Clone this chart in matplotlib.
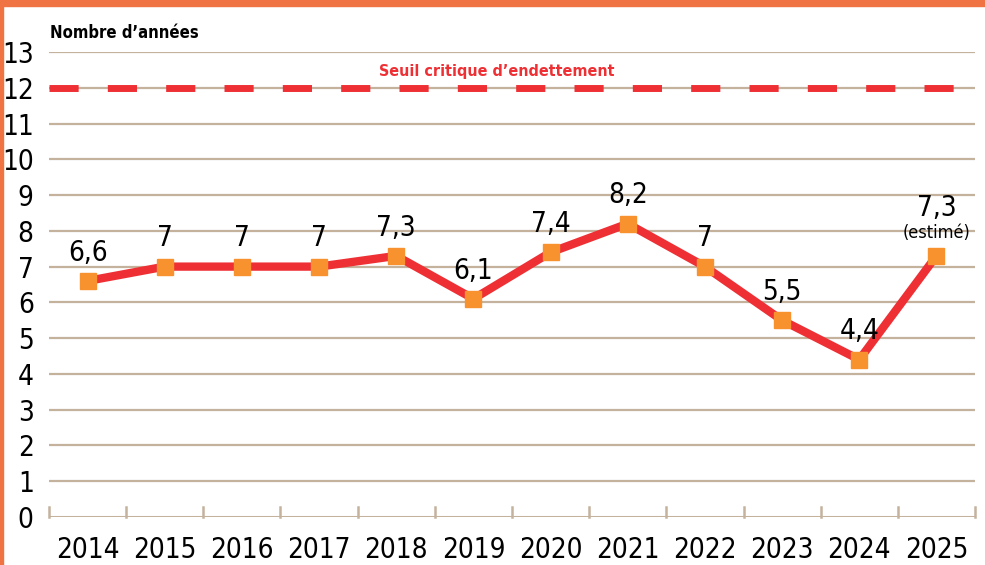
import matplotlib
matplotlib.use("Agg")
import matplotlib.pyplot as plt
from matplotlib.patches import Rectangle

years = ["2014", "2015", "2016", "2017", "2018", "2019", "2020", "2021", "2022", "2023", "2024", "2025"]
values = [6.6, 7, 7, 7, 7.3, 6.1, 7.4, 8.2, 7, 5.5, 4.4, 7.3]
labels = ["6,6", "7", "7", "7", "7,3", "6,1", "7,4", "8,2", "7", "5,5", "4,4", "7,3"]
seuil = 12
yticks = list(range(0, 14))

fonts = ["DejaVu Sans"]
grid_col = "#c4b29d"
red = "#ee3035"
orange = "#f7922e"
big = dict(fontsize=20, family=fonts, fontstretch="condensed")

fig = plt.figure(figsize=(9.85, 5.65), dpi=100)
ax = fig.add_axes([49 / 985, 48 / 565, 926 / 985, 465 / 565])

x = list(range(len(years)))
ax.set_xlim(-0.5, len(years) - 0.5)
ax.set_ylim(0, 13)

# grid lines
for y in yticks[1:]:
    ax.axhline(y, color=grid_col, lw=1.6, zorder=1)
ax.axhline(0, color=grid_col, lw=2.2, zorder=1)
for b in range(len(years) + 1):
    ax.plot([b - 0.5, b - 0.5], [0, 0.28], color=grid_col, lw=1.8, zorder=1, clip_on=False)

# seuil critique
ax.plot([-0.5, len(years) - 0.5], [seuil, seuil], color=red, lw=5, dashes=(4.2, 4.2), zorder=2)
ax.text(5.3, 12.25, "Seuil critique d\u2019endettement", color=red, fontsize=11.5,
        family=fonts, fontstretch="condensed", ha="center", va="bottom", fontweight="bold")

ax.plot(x, values, color=red, lw=6, zorder=3, solid_joinstyle="miter")
ax.plot(x, values, "s", color=orange, ms=11, zorder=4)

for i, (v, lab) in enumerate(zip(values, labels)):
    if i == len(values) - 1:
        ax.text(i, v + 0.95, lab, ha="center", va="bottom", **big)
        ax.text(i, v + 0.4, "(estimé)", fontsize=13, family=fonts, fontstretch="condensed",
                ha="center", va="bottom")
    else:
        ax.text(i, v + 0.4, lab, ha="center", va="bottom", **big)

ax.set_yticks(yticks)
ax.set_yticklabels([str(t) for t in yticks], **big)
ax.set_xticks(x)
ax.set_xticklabels(years, **big)
ax.tick_params(length=0, pad=14)
ax.tick_params(axis="y", pad=11)
for s in ax.spines.values():
    s.set_visible(False)

fig.text(50 / 985, 1 - 33 / 565, "Nombre d\u2019années", fontsize=12, family=fonts,
         fontstretch="condensed", fontweight="bold", va="center", ha="left")

# orange frame
fig.patches.append(Rectangle((0, 1 - 6 / 565), 1, 6 / 565, transform=fig.transFigure,
                             color="#f07443", zorder=10))
fig.patches.append(Rectangle((0, 0), 2.5 / 985, 1, transform=fig.transFigure,
                             color="#f07443", zorder=10))

fig.savefig("out.png", dpi=100)
